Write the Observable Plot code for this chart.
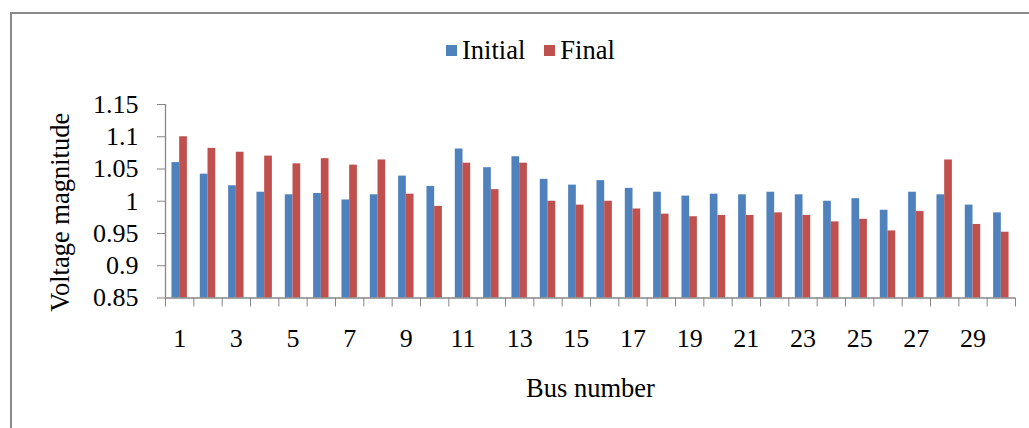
<!DOCTYPE html>
<html>
<head>
<meta charset="utf-8">
<script src="https://cdn.jsdelivr.net/npm/d3@7"></script>
<script src="https://cdn.jsdelivr.net/npm/@observablehq/plot@0.6"></script>
<style>
  body { margin: 0; background: #fff; }
  #wrap { position: relative; width: 1029px; height: 428px; overflow: hidden; font-family: "Liberation Serif", "Times New Roman", serif; }
  #frame { position: absolute; left: 10px; top: 12px; width: 1040px; height: 440px; border-top: 2px solid #8a8a8a; border-left: 2px solid #8a8a8a; }
  #legend { position: absolute; top: 35px; left: 446px; display: flex; align-items: center; font-size: 26.5px; color: #000; z-index: 2; }
  .sw { width: 11px; height: 11px; margin-right: 5px; display: inline-block; }
  .item { display: flex; align-items: center; }
  #chart { position: absolute; left: 0; top: 0; z-index: 1; }
</style>
</head>
<body>
<div id="wrap">
  <div id="frame"></div>
  <div id="legend"></div>
  <div id="chart"></div>
</div>
<script>
const buses = [1,2,3,4,5,6,7,8,9,10,11,12,13,14,15,16,17,18,19,20,21,22,23,24,25,26,27,28,29,30];
const initialValues = [1.060,1.042,1.024,1.014,1.010,1.012,1.002,1.010,1.039,1.023,1.081,1.052,1.069,1.034,1.025,1.032,1.020,1.014,1.008,1.011,1.010,1.014,1.010,1.000,1.004,0.986,1.014,1.010,0.994,0.982];
const finalValues = [1.100,1.082,1.076,1.070,1.058,1.066,1.056,1.064,1.011,0.992,1.059,1.018,1.059,1.000,0.994,1.000,0.988,0.980,0.976,0.978,0.978,0.982,0.978,0.968,0.972,0.954,0.984,1.064,0.964,0.952];
const seriesNames = ["Initial", "Final"];
const seriesColors = ["#4F81BD", "#C0504D"];
const yTicks = [0.85, 0.9, 0.95, 1, 1.05, 1.1, 1.15];
const yTickLabels = ["0.85", "0.9", "0.95", "1", "1.05", "1.1", "1.15"];
const xTickLabels = [1,3,5,7,9,11,13,15,17,19,21,23,25,27,29];
const xBoundaries = [0.5].concat(buses.map(b => b + 0.5));
const yTitle = "Voltage magnitude";
const xTitle = "Bus number";

const rows = buses.flatMap((b, i) => [
  {bus: b, series: seriesNames[0], value: initialValues[i]},
  {bus: b, series: seriesNames[1], value: finalValues[i]}
]);

const barW = 0.272;
const axisColor = "#868686";

const chart = Plot.plot({
  width: 1029,
  height: 428,
  marginLeft: 165,
  marginRight: 14,
  marginTop: 104,
  marginBottom: 130.5,
  style: {fontFamily: "\"Liberation Serif\", \"Times New Roman\", serif", fontSize: "26px", background: "transparent", color: "#000", overflow: "visible"},
  x: {type: "linear", domain: [0.5, 30.5], axis: null},
  y: {domain: [yTicks[0], yTicks[yTicks.length - 1]], axis: null},
  color: {domain: seriesNames, range: seriesColors},
  marks: [
    Plot.rectY(rows, {
      x1: d => d.series === seriesNames[0] ? d.bus - barW : d.bus,
      x2: d => d.series === seriesNames[0] ? d.bus : d.bus + barW,
      y1: yTicks[0],
      y2: "value",
      fill: "series"
    }),
    Plot.ruleX([0.5], {stroke: axisColor, strokeWidth: 1.3}),
    Plot.ruleY([yTicks[0]], {stroke: axisColor, strokeWidth: 1.3}),
    Plot.axisY({ticks: yTicks, tickSize: 8, tickPadding: 19, stroke: axisColor, fill: "#000",
      tickFormat: (d) => yTickLabels[yTicks.indexOf(d)], label: null}),
    Plot.axisX({ticks: xBoundaries, tickSize: 9, stroke: axisColor, tickFormat: () => "", label: null}),
    Plot.axisX({ticks: xTickLabels, tickSize: 0, tickPadding: 31, fill: "#000", tickFormat: d => String(d), label: null}),
    Plot.text([yTitle], {text: d => d, frameAnchor: "left", textAnchor: "middle", lineAnchor: "middle", dx: -105, dy: 11, rotate: -90, fontSize: 26.5, fill: "#000"}),
    Plot.text([xTitle], {text: d => d, frameAnchor: "bottom", textAnchor: "middle", lineAnchor: "middle", dy: 90.5, fontSize: 26.5, fill: "#000"})
  ]
});
document.getElementById("chart").appendChild(chart);

const legend = document.getElementById("legend");
seriesNames.forEach((name, i) => {
  const item = document.createElement("div");
  item.className = "item";
  if (i > 0) item.style.marginLeft = "19px";
  const sw = document.createElement("span");
  sw.className = "sw";
  sw.style.background = seriesColors[i];
  const t = document.createElement("span");
  t.textContent = name;
  item.appendChild(sw);
  item.appendChild(t);
  legend.appendChild(item);
});
</script>
</body>
</html>
